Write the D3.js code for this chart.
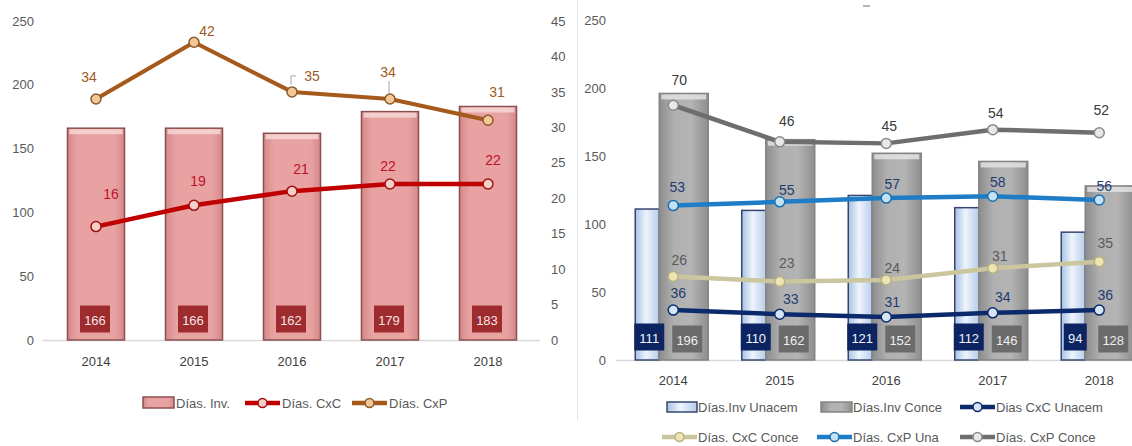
<!DOCTYPE html>
<html>
<head>
<meta charset="utf-8">
<script src="https://cdn.jsdelivr.net/npm/d3@7"></script>
<style>
  html, body { margin: 0; padding: 0; background: #fff; }
  svg { display: block; }
  text { font-family: 'Liberation Sans', Arial, sans-serif; }
</style>
</head>
<body>
<svg id="chart" width="1132" height="446"></svg>
<script>
// ---------- Data ----------
const years = ["2014", "2015", "2016", "2017", "2018"];

// Left panel: inventory days (bars) and receivable / payable days (lines)
const diasInv = [166, 166, 162, 179, 183];
const diasCxC = [16, 19, 21, 22, 22];
const diasCxP = [34, 42, 35, 34, 31];
const leftTicks = [0, 50, 100, 150, 200, 250];
const rightTicks = [0, 5, 10, 15, 20, 25, 30, 35, 40, 45];

// Right panel: Unacem vs Conce
const invUnacem = [111, 110, 121, 112, 94];
const invConce = [196, 162, 152, 146, 128];
const cxcUnacem = [36, 33, 31, 34, 36];
const cxcConce = [26, 23, 24, 31, 35];
const cxpUna = [53, 55, 57, 58, 56];
const cxpConce = [70, 46, 45, 54, 52];
const compTicks = [0, 50, 100, 150, 200, 250];

// ---------- Setup ----------
const svg = d3.select("#chart");
const defs = svg.append("defs");
const AXIS_COLOR = "#595959";

function hGradient(id, stops) {
  const g = defs.append("linearGradient").attr("id", id)
    .attr("x1", "0%").attr("x2", "100%").attr("y1", "0%").attr("y2", "0%");
  stops.forEach(([o, c]) => g.append("stop").attr("offset", o).attr("stop-color", c));
}
hGradient("gInv", [["0%", "#d48888"], ["18%", "#e8a2a2"], ["82%", "#e8a2a2"], ["100%", "#d48888"]]);
hGradient("gUna", [["0%", "#a9c2e4"], ["45%", "#eef4fc"], ["100%", "#b7cdea"]]);
hGradient("gCon", [["0%", "#8c8c8c"], ["30%", "#b0b0b0"], ["65%", "#b4b4b4"], ["100%", "#8e8e8e"]]);

// Separator between the two panels
svg.append("line").attr("x1", 577.5).attr("x2", 577.5).attr("y1", 0).attr("y2", 420)
  .attr("stroke", "#e4e4e4").attr("stroke-width", 1);

function styleAxis(g, size) {
  g.select(".domain").remove();
  g.selectAll("text").attr("fill", AXIS_COLOR).style("font-size", size + "px");
}

function drawMarkers(g, xs, ys, fill, stroke, r) {
  g.selectAll(null).data(xs).join("circle")
    .attr("cx", d => d).attr("cy", (d, i) => ys[i])
    .attr("r", r).attr("fill", fill).attr("stroke", stroke).attr("stroke-width", 1.5);
}

function drawLabels(g, values, xs, ys, offsets, color, size) {
  g.selectAll(null).data(values).join("text")
    .attr("x", (d, i) => xs[i] + offsets[i][0])
    .attr("y", (d, i) => ys[i] + offsets[i][1])
    .attr("text-anchor", "middle").attr("dominant-baseline", "central")
    .attr("fill", color).style("font-size", size + "px")
    .text(d => d);
}

function valueBox(g, cx, cy, value, fill, textColor) {
  const w = String(value).length * 7 + 9, h = 27;
  g.append("rect").attr("x", cx - w / 2).attr("y", cy - h / 2)
    .attr("width", w).attr("height", h).attr("fill", fill);
  g.append("text").attr("x", cx).attr("y", cy + 1)
    .attr("text-anchor", "middle").attr("dominant-baseline", "central")
    .attr("fill", textColor).style("font-size", "13px").text(value);
}

// ---------- Left panel ----------
{
  const g = svg.append("g");
  const x = d3.scaleBand().domain(years).range([47, 537]).paddingInner(0.418).paddingOuter(0.209);
  const y = d3.scaleLinear().domain([0, 250]).range([340, 21]);
  const y2 = d3.scaleLinear().domain([0, 45]).range([340, 21]);
  const cx = d => x(d) + x.bandwidth() / 2;

  g.append("g").attr("transform", "translate(34,0)")
    .call(d3.axisLeft(y).tickValues(leftTicks).tickSize(0).tickPadding(0))
    .call(a => styleAxis(a, 13));
  g.append("g").attr("transform", "translate(551,0)")
    .call(d3.axisRight(y2).tickValues(rightTicks).tickSize(0).tickPadding(0))
    .call(a => styleAxis(a, 13));
  const xa = g.append("g").attr("transform", "translate(0,340)")
    .call(d3.axisBottom(x).tickSize(0).tickPadding(17));
  xa.select(".domain").attr("stroke", "#d9d9d9").attr("stroke-width", 1.5)
    .attr("d", "M42,0.5H540");
  xa.selectAll("text").attr("fill", "#404040").style("font-size", "13px");

  // Bars
  const bars = g.append("g");
  bars.selectAll("rect.bar").data(diasInv).join("rect").attr("class", "bar")
    .attr("x", (d, i) => x(years[i])).attr("y", d => y(d))
    .attr("width", x.bandwidth()).attr("height", d => y(0) - y(d))
    .attr("fill", "url(#gInv)").attr("stroke", "#8a5050").attr("stroke-width", 1.5);
  bars.selectAll("rect.hl").data(diasInv).join("rect").attr("class", "hl")
    .attr("x", (d, i) => x(years[i]) + 2).attr("y", d => y(d) + 1)
    .attr("width", x.bandwidth() - 4).attr("height", 5)
    .attr("fill", "#f8dada").attr("opacity", 0.8);
  diasInv.forEach((v, i) => valueBox(bars, cx(years[i]) - 1, 319, v, "#9e2b2e", "#f4e4e4"));

  const xs = years.map(cx);

  // Días. CxP
  const ysP = diasCxP.map(v => y2(v));
  g.append("path").datum(diasCxP)
    .attr("d", d3.line().x((d, i) => xs[i]).y(d => y2(d)))
    .attr("fill", "none").attr("stroke", "#a5591b").attr("stroke-width", 4)
    .attr("stroke-linejoin", "round");
  drawMarkers(g, xs, ysP, "#f3c894", "#8b5a2b", 5);

  // Días. CxC
  const ysC = diasCxC.map(v => y2(v));
  g.append("path").datum(diasCxC)
    .attr("d", d3.line().x((d, i) => xs[i]).y(d => y2(d)))
    .attr("fill", "none").attr("stroke", "#c00000").attr("stroke-width", 4.5)
    .attr("stroke-linejoin", "round");
  drawMarkers(g, xs, ysC, "#f6cfc8", "#a01010", 5);

  // Leader lines for displaced labels
  g.append("path").attr("d", `M${xs[2] - 1},${ysP[2] - 7}V${ysP[2] - 16}H${xs[2] + 4}`)
    .attr("fill", "none").attr("stroke", "#a6a6a6").attr("stroke-width", 1);
  g.append("path").attr("d", `M${xs[3] - 1},${ysP[3] - 6}V${ysP[3] - 18}`)
    .attr("fill", "none").attr("stroke", "#a6a6a6").attr("stroke-width", 1);

  const offP = [[-7, -22], [13, -11], [20, -16], [-2, -27], [9, -28]];
  const offC = [[15, -33], [4, -24], [9, -22], [-2, -18], [5, -24]];
  drawLabels(g, diasCxP, xs, ysP, offP, "#9c5a22", 14);
  drawLabels(g, diasCxC, xs, ysC, offC, "#c0102a", 14);

  // Legend
  const lg = g.append("g").style("font-size", "13px");
  lg.append("rect").attr("x", 143).attr("y", 397).attr("width", 31).attr("height", 11)
    .attr("fill", "url(#gInv)").attr("stroke", "#8a5050").attr("stroke-width", 1.5);
  lg.append("text").attr("x", 176).attr("y", 403).attr("dominant-baseline", "central")
    .attr("fill", AXIS_COLOR).text("Días. Inv.");
  [[245, "#c00000", "#f6cfc8", "#a01010", "Días. CxC"],
   [352, "#a5591b", "#f3c894", "#8b5a2b", "Días. CxP"]].forEach(([lx, c, f, s, t]) => {
    lg.append("line").attr("x1", lx).attr("x2", lx + 35).attr("y1", 403).attr("y2", 403)
      .attr("stroke", c).attr("stroke-width", 4.5);
    lg.append("circle").attr("cx", lx + 17.5).attr("cy", 403).attr("r", 4.5)
      .attr("fill", f).attr("stroke", s).attr("stroke-width", 1.5);
    lg.append("text").attr("x", lx + 37).attr("y", 403).attr("dominant-baseline", "central")
      .attr("fill", AXIS_COLOR).text(t);
  });
}

// ---------- Right panel ----------
{
  const g = svg.append("g");
  const x = d3.scaleBand().domain(years).range([620, 1152.5]).padding(0);
  const y = d3.scaleLinear().domain([0, 250]).range([360, 20]);
  const cx = d => x(d) + x.bandwidth() / 2;
  const xs = years.map(cx);

  // Each line series is plotted on its own unlabelled secondary scale
  const yCxPConce = d3.scaleLinear().domain([0, 80]).range([212, 90]);
  const yCxPUna = d3.scaleLinear().domain([0, 80]).range([304.7, 155.1]);
  const yCxCConce = d3.scaleLinear().domain([0, 80]).range([319.7, 187]);
  const yCxCUnacem = d3.scaleLinear().domain([0, 80]).range([360.1, 248.9]);

  g.append("g").attr("transform", "translate(606,0)")
    .call(d3.axisLeft(y).tickValues(compTicks).tickSize(0).tickPadding(0))
    .call(a => styleAxis(a, 13));
  const xa = g.append("g").attr("transform", "translate(0,360)")
    .call(d3.axisBottom(x).tickSize(0).tickPadding(16));
  xa.select(".domain").attr("stroke", "#d9d9d9").attr("stroke-width", 1.5)
    .attr("d", "M616,0.5H1132");
  xa.selectAll("text").attr("fill", "#404040").style("font-size", "13px");

  // Small mark above the plot
  g.append("line").attr("x1", 863).attr("x2", 870).attr("y1", 6).attr("y2", 6)
    .attr("stroke", "#9a9a9a").attr("stroke-width", 1.5);

  // Bars
  const bars = g.append("g");
  bars.selectAll("rect.una").data(invUnacem).join("rect").attr("class", "una")
    .attr("x", (d, i) => xs[i] - 38).attr("y", d => y(d))
    .attr("width", 24).attr("height", d => y(0) - y(d))
    .attr("fill", "url(#gUna)").attr("stroke", "#34476f").attr("stroke-width", 1.5);
  bars.selectAll("rect.con").data(invConce).join("rect").attr("class", "con")
    .attr("x", (d, i) => xs[i] - 14).attr("y", d => y(d))
    .attr("width", 49).attr("height", d => y(0) - y(d))
    .attr("fill", "url(#gCon)").attr("stroke", "#858585").attr("stroke-width", 1.5);
  bars.selectAll("rect.hl").data(invConce).join("rect").attr("class", "hl")
    .attr("x", (d, i) => xs[i] - 12).attr("y", d => y(d) + 1)
    .attr("width", 45).attr("height", 5).attr("fill", "#e6e6e6").attr("opacity", 0.8);
  invUnacem.forEach((v, i) => valueBox(bars, xs[i] - 24, 337, v, "#0c2461", "#f0f4fa"));
  invConce.forEach((v, i) => valueBox(bars, xs[i] + 14, 339, v, "#6b6b6b", "#eeeeee"));

  const series = [
    { vals: cxpConce, s: yCxPConce, line: "#6e6e6e", fill: "#e8e8e8", stroke: "#8a8a8a", lab: "#3a3a3a",
      off: [[6, -25], [7, -21], [3, -17], [3, -17], [2, -23]] },
    { vals: cxpUna, s: yCxPUna, line: "#1f7cc6", fill: "#c4e2f6", stroke: "#1a6fb0", lab: "#1f3b70",
      off: [[4, -19], [7, -12], [6, -14], [5, -14], [5, -14]] },
    { vals: cxcConce, s: yCxCConce, line: "#cbc69e", fill: "#ece4b4", stroke: "#b8b080", lab: "#5a5a5a",
      off: [[6, -17], [7, -19], [6, -12], [7, -12], [6, -19]] },
    { vals: cxcUnacem, s: yCxCUnacem, line: "#0b2a6c", fill: "#d6e4f4", stroke: "#0b2a6c", lab: "#1f3b70",
      off: [[5, -17], [11, -15], [6, -15], [10, -16], [6, -15]] }
  ];
  series.forEach(sr => {
    const ys = sr.vals.map(v => sr.s(v));
    g.append("path").datum(sr.vals)
      .attr("d", d3.line().x((d, i) => xs[i]).y(d => sr.s(d)))
      .attr("fill", "none").attr("stroke", sr.line).attr("stroke-width", 4.5)
      .attr("stroke-linejoin", "round");
    drawMarkers(g, xs, ys, sr.fill, sr.stroke, 5);
  });
  series.forEach(sr => {
    const ys = sr.vals.map(v => sr.s(v));
    drawLabels(g, sr.vals, xs, ys, sr.off, sr.lab, 14);
  });

  // Legend
  const lg = g.append("g").style("font-size", "13px");
  const txt = (lx, ly, t) => lg.append("text").attr("x", lx).attr("y", ly)
    .attr("dominant-baseline", "central").attr("fill", AXIS_COLOR).text(t);
  lg.append("rect").attr("x", 667).attr("y", 402).attr("width", 30).attr("height", 10)
    .attr("fill", "url(#gUna)").attr("stroke", "#34476f").attr("stroke-width", 1.5);
  txt(698, 407, "Días.Inv Unacem");
  lg.append("rect").attr("x", 821).attr("y", 402).attr("width", 31).attr("height", 10)
    .attr("fill", "url(#gCon)").attr("stroke", "#858585").attr("stroke-width", 1.5);
  txt(853, 407, "Días.Inv Conce");
  const lineKey = (lx, ly, sr, t) => {
    lg.append("line").attr("x1", lx).attr("x2", lx + 35).attr("y1", ly).attr("y2", ly)
      .attr("stroke", sr.line).attr("stroke-width", 4.5);
    lg.append("circle").attr("cx", lx + 17.5).attr("cy", ly).attr("r", 4.5)
      .attr("fill", sr.fill).attr("stroke", sr.stroke).attr("stroke-width", 1.5);
    txt(lx + 36, ly, t);
  };
  lineKey(960, 407, series[3], "Dias CxC Unacem");
  lineKey(662, 437, series[2], "Días. CxC Conce");
  lineKey(817, 437, series[1], "Días. CxP Una");
  lineKey(960, 437, series[0], "Días. CxP Conce");
}
</script>
</body>
</html>
